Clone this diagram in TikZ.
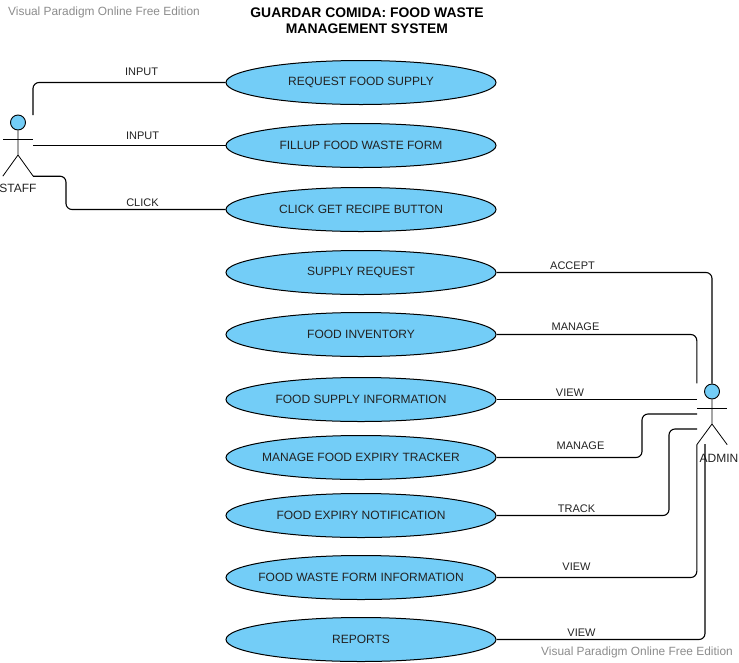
\documentclass[tikz,border=0pt]{standalone}
\usepackage{fontspec}
\setmainfont{Liberation Sans}
\usetikzlibrary{calc,shapes.geometric}
\definecolor{ucfill}{HTML}{73CDF7}
\definecolor{wm}{HTML}{8C8C8C}
\definecolor{txt}{HTML}{222222}
\newcommand{\uctext}[1]{\makebox[0pt]{\raisebox{-0.6pt}{#1}}}
\tikzset{
  x=1pt,y=-1pt,
  usecase/.style={ellipse,draw=black,line width=1pt,fill=ucfill,minimum width=270pt,minimum height=44pt,inner sep=0pt,font=\fontsize{12}{14}\selectfont,text=txt},
  conn/.style={draw=black,line width=1.1pt,rounded corners=6pt},
  lbl/.style={inner sep=0pt,font=\fontsize{11}{13}\selectfont,text=txt},
  watermark/.style={inner sep=0pt,font=\fontsize{11.9}{14}\selectfont,text=wm},
  actorbox/.style={minimum width=30pt,minimum height=61pt,inner sep=0pt},
  head/.style={circle,draw=black,line width=.9pt,fill=ucfill,minimum size=15pt,inner sep=0pt},
  limb/.style={draw=black,line width=.8pt},
  actorname/.style={inner sep=0pt,font=\fontsize{12}{14}\selectfont,text=txt},
}
\begin{document}
\begin{tikzpicture}
\useasboundingbox (0,0) rectangle (739,662);
\node[watermark,anchor=west] (wmA) at (8,12) {Visual Paradigm Online Free Edition};
\node[watermark,anchor=west] (wmB) at (541,652.5) {Visual Paradigm Online Free Edition};
\node[inner sep=0pt,align=center,font=\bfseries\fontsize{13.9}{16}\selectfont] (title) at (367,21) {GUARDAR COMIDA: FOOD WASTE\\MANAGEMENT SYSTEM};

\node[usecase] (u1) at (361,82.5) {\uctext{REQUEST FOOD SUPPLY}};
\node[usecase] (u2) at (361,145.5) {\uctext{FILLUP FOOD WASTE FORM}};
\node[usecase] (u3) at (361,209.5) {\uctext{CLICK GET RECIPE BUTTON}};
\node[usecase] (u4) at (361,272.5) {\uctext{SUPPLY REQUEST}};
\node[usecase] (u5) at (361,334.5) {\uctext{FOOD INVENTORY}};
\node[usecase] (u6) at (361,399.5) {\uctext{FOOD SUPPLY INFORMATION}};
\node[usecase] (u7) at (361,457.5) {\uctext{MANAGE FOOD EXPIRY TRACKER}};
\node[usecase] (u8) at (361,515.5) {\uctext{FOOD EXPIRY NOTIFICATION}};
\node[usecase] (u9) at (361,577.5) {\uctext{FOOD WASTE FORM INFORMATION}};
\node[usecase] (u10) at (361,639.5) {\uctext{REPORTS}};

% staff actor
\node[actorbox] (staff) at (18,145.5) {};
\node[head] (staffhead) at (18,122.5) {};
\draw[limb] (staffhead.south) -- (18,155) -- (staff.south west);
\draw[limb] (18,155) -- (staff.south east);
\draw[limb] (3,139) -- (33,139);
\node[actorname] (staffname) at (18,188) {STAFF};

% admin actor
\node[actorbox] (admin) at (712,414) {};
\node[head] (adminhead) at (712,391.5) {};
\draw[limb] (adminhead.south) -- (712,424) -- (admin.south west);
\draw[limb] (712,424) -- (admin.south east);
\draw[limb] (697,408) -- (727,408);
\node[actorname] (adminname) at (719,458) {ADMIN};

% named ports and bends
\coordinate (pS1) at (33,115);
\coordinate (bS3) at (66,190);
\coordinate (pA3) at (697,399.5);
\coordinate (pA4) at (697,414);
\coordinate (bA4) at (642,436);
\coordinate (pA5) at (697,429);
\coordinate (bA5) at (669,470);
\coordinate (pA7) at (705,444);

% connectors
\draw[conn] (pS1) |- (u1.west);
\draw[conn] (staff.east) -- (u2.west);
\draw[conn] (staff.south east) -| (bS3) |- (u3.west);
\draw[conn] (u4.east) -| (adminhead.north);
\draw[conn] (u5.east) -| (admin.north west);
\draw[conn] (u6.east) -- (pA3);
\draw[conn] (u7.east) -| (bA4) |- (pA4);
\draw[conn] (u8.east) -| (bA5) |- (pA5);
\draw[conn] (u9.east) -| (admin.south west);
\draw[conn] (u10.east) -| (pA7);

% labels
\node[lbl] (l1) at (141.5,72) {INPUT};
\node[lbl] (l2) at (142.5,135.5) {INPUT};
\node[lbl] (l3) at (142.5,202.5) {CLICK};
\node[lbl] (l4) at (572.5,265.5) {ACCEPT};
\node[lbl] (l5) at (575.5,326.5) {MANAGE};
\node[lbl] (l6) at (570,392.5) {VIEW};
\node[lbl] (l7) at (580.5,445.5) {MANAGE};
\node[lbl] (l8) at (576.5,508.5) {TRACK};
\node[lbl] (l9) at (576.5,566.5) {VIEW};
\node[lbl] (l10) at (581.5,632.5) {VIEW};
\end{tikzpicture}
\end{document}
